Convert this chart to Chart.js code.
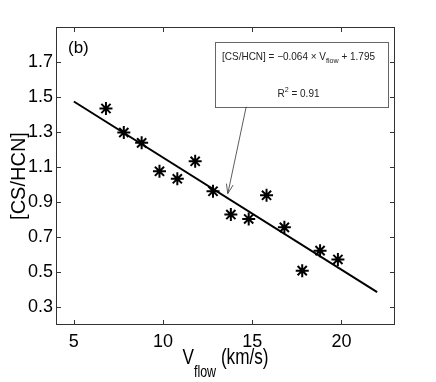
<!DOCTYPE html>
<html>
<head>
<meta charset="utf-8">
<script src="https://cdn.jsdelivr.net/npm/chart.js@4.4.1/dist/chart.umd.min.js"></script>
<style>
  html, body { margin: 0; padding: 0; background: #fff; }
  #wrap { width: 436px; height: 382px; }
</style>
</head>
<body>
<div id="wrap"><canvas id="ratioChart" width="436" height="382"></canvas></div>
<script>
// measured points: V_flow (km/s) vs [CS/HCN]
const vFlow = [6.8, 7.8, 8.8, 9.8, 10.8, 11.8, 12.8, 13.8, 14.8, 15.8, 16.8, 17.8, 18.8, 19.8];
const csHcn = [1.435, 1.298, 1.239, 1.077, 1.034, 1.134, 0.963, 0.830, 0.805, 0.940, 0.757, 0.510, 0.624, 0.574];

// fitted line end points
const fitX = [5, 22];
const fitY = [1.475, 0.387];

const xTicks = [5, 10, 15, 20];
const yTicks = [0.3, 0.5, 0.7, 0.9, 1.1, 1.3, 1.5, 1.7];

const panelLabel = '(b)';
const fitText = ['[CS/HCN] = \u22120.064 \u00d7 V', 'flow', ' + 1.795'];
const r2Text = ['R', '2', ' = 0.91'];

// annotation box + arrow, in data units
const note = { x0: 12.92, x1: 22.6, y0: 1.814, y1: 1.445, arrowFrom: 14.66, arrowTo: [13.63, 0.95] };

const ink = '#000';
const axisGrey = '#333';

const toPoints = (xs, ys) => xs.map((x, i) => ({ x, y: ys[i] }));

// draws text runs with sub/superscripts, optional horizontal squeeze
function drawRuns(ctx, runs, x, y, squeeze, align) {
  ctx.save();
  ctx.textBaseline = 'alphabetic';
  ctx.textAlign = 'left';
  let total = 0;
  runs.forEach((r) => { ctx.font = r.font; total += ctx.measureText(r.text).width; });
  let cx = align === 'center' ? -total / 2 : 0;
  ctx.translate(x, y);
  ctx.scale(squeeze, 1);
  runs.forEach((r) => {
    ctx.font = r.font;
    ctx.fillText(r.text, cx, r.dy || 0);
    cx += ctx.measureText(r.text).width;
  });
  ctx.restore();
}

const matlabFrame = {
  id: 'matlabFrame',
  afterDatasetsDraw(chart) {
    const { ctx, chartArea: a, scales } = chart;
    const xs = scales.x, ys = scales.y;
    const tick = 5;
    ctx.save();
    ctx.strokeStyle = axisGrey;
    ctx.lineWidth = 1;
    ctx.strokeRect(a.left + 0.5, a.top + 0.5, a.right - a.left - 1, a.bottom - a.top - 1);
    ctx.beginPath();
    xTicks.forEach((v) => {
      const px = Math.round(xs.getPixelForValue(v)) + 0.5;
      ctx.moveTo(px, a.bottom); ctx.lineTo(px, a.bottom - tick);
      ctx.moveTo(px, a.top); ctx.lineTo(px, a.top + tick);
    });
    yTicks.forEach((v) => {
      const py = Math.round(ys.getPixelForValue(v)) + 0.5;
      ctx.moveTo(a.left, py); ctx.lineTo(a.left + tick, py);
      ctx.moveTo(a.right, py); ctx.lineTo(a.right - tick, py);
    });
    ctx.stroke();

    // annotation box
    const bx0 = xs.getPixelForValue(note.x0), bx1 = xs.getPixelForValue(note.x1);
    const by0 = ys.getPixelForValue(note.y0), by1 = ys.getPixelForValue(note.y1);
    ctx.fillStyle = '#fff';
    ctx.fillRect(bx0, by0, bx1 - bx0, by1 - by0);
    ctx.strokeStyle = '#666';
    ctx.strokeRect(Math.round(bx0) + 0.5, Math.round(by0) + 0.5, Math.round(bx1 - bx0), Math.round(by1 - by0));

    ctx.fillStyle = '#222';
    const cx = (bx0 + bx1) / 2 - 3;
    drawRuns(ctx, [
      { text: fitText[0], font: '10.5px "Liberation Sans", Arial, sans-serif' },
      { text: fitText[1], font: '7.5px "Liberation Sans", Arial, sans-serif', dy: 3 },
      { text: fitText[2], font: '10.5px "Liberation Sans", Arial, sans-serif' }
    ], cx, by0 + 18, 0.95, 'center');
    drawRuns(ctx, [
      { text: r2Text[0], font: '10.5px "Liberation Sans", Arial, sans-serif' },
      { text: r2Text[1], font: '7.5px "Liberation Sans", Arial, sans-serif', dy: -5 },
      { text: r2Text[2], font: '10.5px "Liberation Sans", Arial, sans-serif' }
    ], cx, by0 + 55, 0.95, 'center');

    // arrow
    const ax0 = xs.getPixelForValue(note.arrowFrom), ay0 = by1;
    const ax1 = xs.getPixelForValue(note.arrowTo[0]), ay1 = ys.getPixelForValue(note.arrowTo[1]);
    const ang = Math.atan2(ay1 - ay0, ax1 - ax0);
    ctx.strokeStyle = '#333';
    ctx.lineWidth = 0.8;
    ctx.beginPath();
    ctx.moveTo(ax0, ay0); ctx.lineTo(ax1, ay1);
    [0.35, -0.35].forEach((d) => {
      ctx.moveTo(ax1, ay1);
      ctx.lineTo(ax1 - 10 * Math.cos(ang + d), ay1 - 10 * Math.sin(ang + d));
    });
    ctx.stroke();

    // panel label
    ctx.fillStyle = ink;
    drawRuns(ctx, [{ text: panelLabel, font: '17px "Liberation Sans", Arial, sans-serif' }], a.left + 12, a.top + 26, 1, 'left');

    // axis titles
    const midX = (a.left + a.right) / 2;
    drawRuns(ctx, [
      { text: 'V', font: '22px "Liberation Sans", Arial, sans-serif' },
      { text: 'flow', font: '16px "Liberation Sans", Arial, sans-serif', dy: 13 },
      { text: ' (km/s)', font: '22px "Liberation Sans", Arial, sans-serif' }
    ], midX, 364, 0.78, 'center');

    ctx.save();
    ctx.translate(25, (a.top + a.bottom) / 2);
    ctx.rotate(-Math.PI / 2);
    ctx.font = '20px "Liberation Sans", Arial, sans-serif';
    ctx.textAlign = 'center';
    ctx.textBaseline = 'alphabetic';
    ctx.fillText('[CS/HCN]', 0, 0);
    ctx.restore();
    ctx.restore();
  }
};

new Chart(document.getElementById('ratioChart'), {
  type: 'scatter',
  data: {
    datasets: [
      {
        label: 'fit',
        type: 'line',
        data: toPoints(fitX, fitY),
        borderColor: ink,
        borderWidth: 2,
        pointRadius: 0,
        fill: false
      },
      {
        label: '[CS/HCN]',
        data: toPoints(vFlow, csHcn),
        pointStyle: 'star',
        pointRadius: 6.5,
        borderColor: ink,
        backgroundColor: ink,
        borderWidth: 2
      }
    ]
  },
  options: {
    responsive: false,
    animation: false,
    layout: { padding: { top: 27, right: 41, left: 0, bottom: 0 } },
    plugins: { legend: { display: false }, tooltip: { enabled: false } },
    scales: {
      x: {
        type: 'linear',
        min: 4,
        max: 23,
        afterBuildTicks: (s) => { s.ticks = xTicks.map((v) => ({ value: v })); },
        afterFit: (s) => { s.height = 57; },
        grid: { display: false, drawTicks: false },
        border: { display: false },
        ticks: { color: ink, padding: 6, font: { family: '"Liberation Sans", Arial, sans-serif', size: 18 } }
      },
      y: {
        type: 'linear',
        min: 0.2,
        max: 1.9,
        afterBuildTicks: (s) => { s.ticks = yTicks.map((v) => ({ value: v })); },
        afterFit: (s) => { s.width = 56; },
        grid: { display: false, drawTicks: false },
        border: { display: false },
        ticks: {
          color: ink,
          padding: 3,
          font: { family: '"Liberation Sans", Arial, sans-serif', size: 18 },
          callback: (v) => v.toFixed(1)
        }
      }
    }
  },
  plugins: [matlabFrame]
});
</script>
</body>
</html>
